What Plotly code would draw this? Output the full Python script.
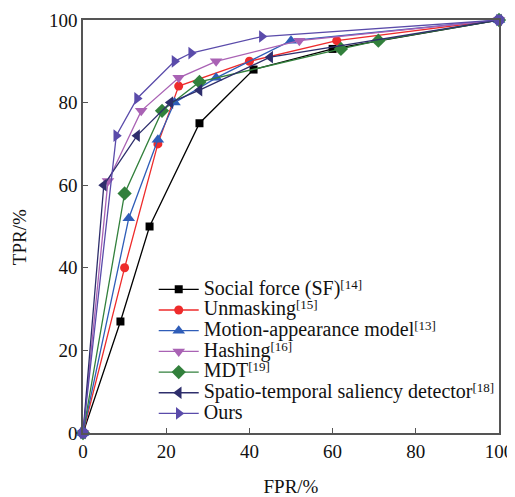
import plotly.graph_objects as go

# ---- data ----
sf_x = [0, 9, 16, 28, 41, 60, 100]
sf_y = [0, 27, 50, 75, 88, 93, 100]

unm_x = [0, 10, 18, 23, 40, 61, 100]
unm_y = [0, 40, 70, 84, 90, 95, 100]

mot_x = [0, 11, 18, 22, 32, 50, 100]
mot_y = [0, 52, 71, 80, 86, 95, 100]

hash_x = [0, 6, 14, 23, 32, 52, 100]
hash_y = [0, 61, 78, 86, 90, 95, 100]

mdt_x = [0, 10, 19, 28, 62, 71, 100]
mdt_y = [0, 58, 78, 85, 93, 95, 100]

st_x = [0, 5, 13, 21, 28, 45, 100]
st_y = [0, 60, 72, 80, 83, 91, 100]

ours_x = [0, 8, 13, 22, 26, 43, 100]
ours_y = [0, 72, 81, 90, 92, 96, 100]

x_ticks = [0, 20, 40, 60, 80, 100]
y_ticks = [0, 20, 40, 60, 80, 100]

labels = [
    "Social force (SF)",
    "Unmasking",
    "Motion-appearance model",
    "Hashing",
    "MDT",
    "Spatio-temporal saliency detector",
    "Ours",
]
refs = ["[14]", "[15]", "[13]", "[16]", "[19]", "[18]", ""]

series = [
    (sf_x, sf_y, "#000000", "square", 8),
    (unm_x, unm_y, "#EE2B2B", "circle", 9),
    (mot_x, mot_y, "#2F5DB8", "triangle-up", 11),
    (hash_x, hash_y, "#A962B4", "triangle-down", 11),
    (mdt_x, mdt_y, "#32803C", "diamond", 11),
    (st_x, st_y, "#2E2E6C", "triangle-left", 11),
    (ours_x, ours_y, "#5A4BAA", "triangle-right", 11),
]

FONT = "Liberation Serif, Times New Roman, serif"


def legend_name(label, ref):
    s = '<span style="font-size:20px">' + label + "</span>"
    if ref:
        s += '<span style="font-size:13px;baseline-shift:6px">' + ref + "</span>"
    return s


fig = go.Figure()
for (xs, ys, col, sym, sz), lb, rf in zip(series, labels, refs):
    fig.add_trace(go.Scatter(
        x=xs, y=ys, mode="lines+markers",
        name=legend_name(lb, rf),
        line=dict(color=col, width=1.3),
        marker=dict(symbol=sym, size=sz, color=col, line=dict(width=0)),
        cliponaxis=False,
    ))

# shared end points (0,0) and (100,100) appear as round purple dots in the reference
fig.add_trace(go.Scatter(
    x=[ours_x[0], ours_x[-1]], y=[ours_y[0], ours_y[-1]], mode="markers",
    marker=dict(symbol="circle", size=11, color="#5A4BAA", line=dict(width=0)),
    showlegend=False, hoverinfo="skip", cliponaxis=False,
))

axis_common = dict(
    range=[0, 100], showline=True, mirror=True, linecolor="#555555", linewidth=1.5,
    ticks="inside", ticklen=5, tickcolor="#555555", tickwidth=1.2,
    showgrid=False, zeroline=False, automargin=False,
    tickfont=dict(family=FONT, size=19, color="#111111"),
)

fig.update_xaxes(**axis_common, tickvals=x_ticks,
                 title=dict(text="FPR/%", font=dict(family=FONT, size=19, color="#111111"), standoff=20))
fig.update_yaxes(**axis_common, tickvals=y_ticks)

# y-axis title as an annotation (sits slightly below the axis centre in the reference)
fig.add_annotation(
    text="TPR/%", textangle=-90, showarrow=False,
    xref="paper", yref="paper", x=-0.153, y=0.475,
    xanchor="center", yanchor="middle",
    font=dict(family=FONT, size=19, color="#111111"),
)

# page body has an 8px margin, so the figure is drawn 8px in from the window edge
fig.update_layout(
    width=507, height=489,
    margin=dict(l=75, r=16, t=12, b=64, autoexpand=False),
    plot_bgcolor="white", paper_bgcolor="white",
    font=dict(family=FONT, color="#111111"),
    legend=dict(
        x=0.17, y=0.385, xanchor="left", yanchor="top",
        font=dict(family=FONT, size=13.6, color="#111111"),
        bgcolor="rgba(0,0,0,0)", borderwidth=0, itemwidth=40,
        tracegroupgap=0,
    ),
)

fig.write_html("out.html")
